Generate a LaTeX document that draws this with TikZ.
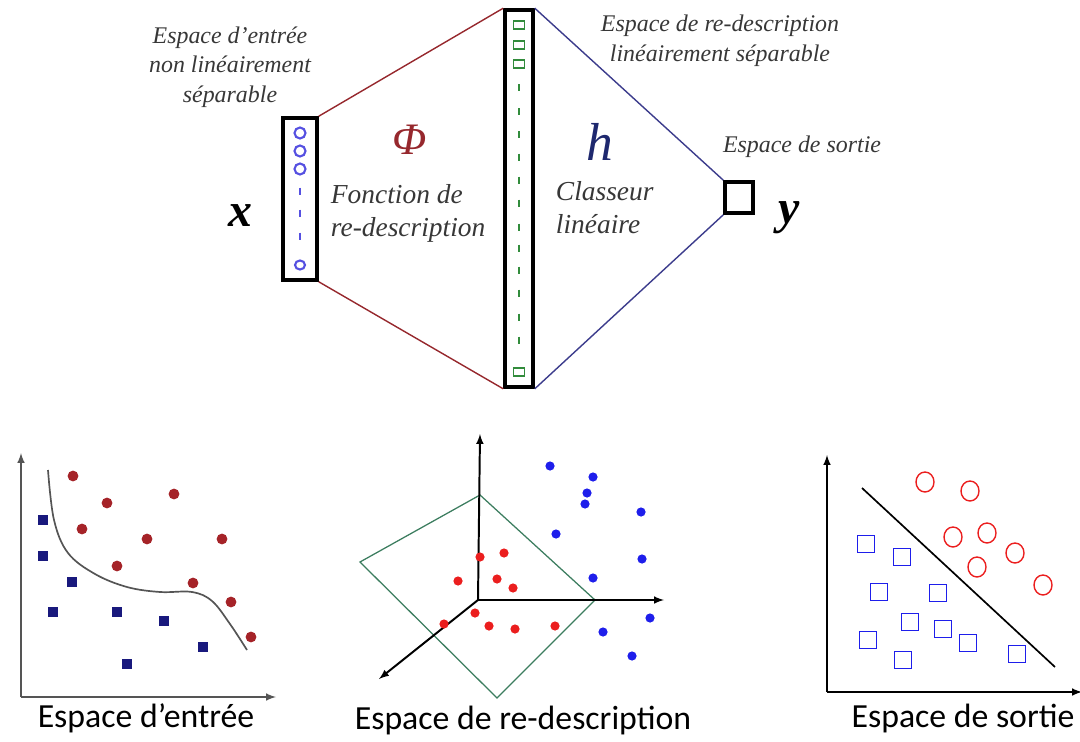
\documentclass[tikz,border=0pt]{standalone}
\usepackage{fontspec}
\setmainfont{Liberation Serif}
\newfontfamily\calibfont{Carlito}
\usepackage{tikz}
\usetikzlibrary{arrows,positioning,shapes.geometric}
\definecolor{phired}{RGB}{150,40,45}
\definecolor{hblue}{RGB}{60,60,140}
\definecolor{hdark}{RGB}{30,40,110}
\definecolor{labelgray}{RGB}{55,55,55}
\definecolor{inblue}{RGB}{85,80,225}
\definecolor{midgreen}{RGB}{50,140,60}
\definecolor{dotred}{RGB}{165,35,40}
\definecolor{dotnavy}{RGB}{25,25,125}
\definecolor{brightred}{RGB}{235,30,30}
\definecolor{brightblue}{RGB}{30,30,235}
\definecolor{planegreen}{RGB}{60,125,95}
\definecolor{axisgray}{RGB}{85,85,85}

\begin{document}
\begin{tikzpicture}[x=0.025cm, y=-0.025cm,
    inbox/.style={draw=black, line width=2.5pt, minimum width=0.85cm,
                  minimum height=4.05cm, inner sep=0pt},
    midbox/.style={draw=black, line width=2.5pt, minimum width=0.7cm,
                   minimum height=9.425cm, inner sep=0pt},
    outbox/.style={draw=black, line width=2.5pt, minimum width=0.7cm,
                   minimum height=0.78cm, inner sep=0pt},
    lbl/.style={font=\fontsize{17}{21}\selectfont\itshape, text=labelgray, align=center},
    midlbl/.style={font=\fontsize{19.5}{23.5}\selectfont\itshape, text=labelgray, align=left},
    vec/.style={font=\fontsize{34}{36}\selectfont\bfseries\itshape},
    caption/.style={font=\calibfont\fontsize{24}{28}\selectfont},
    redline/.style={phired, line width=1pt},
    blueline/.style={hblue, line width=1pt},
    axis/.style={-latex, line width=1.4pt},
    rdot/.style={circle, fill=dotred, minimum size=0.27cm, inner sep=0pt},
    nsq/.style={rectangle, fill=dotnavy, minimum size=0.25cm, inner sep=0pt},
    rpt/.style={circle, fill=brightred, minimum size=0.23cm, inner sep=0pt},
    bpt/.style={circle, fill=brightblue, minimum size=0.23cm, inner sep=0pt},
    rring/.style={draw=brightred, line width=1pt, ellipse, minimum width=0.45cm,
                  minimum height=0.5cm, inner sep=0pt},
    bbox/.style={draw=brightblue, line width=1pt, rectangle, minimum size=0.42cm, inner sep=0pt}
]
\useasboundingbox (0,0) rectangle (1080,742);

% --- top: network ---
\node[inbox]  (in)  at (300,199) {};
\node[midbox] (mid) at (519,198.5) {};
\node[outbox] (out) at (739,197.5) {};

\draw[redline]  (in.north east)  -- (mid.north west);
\draw[redline]  (in.south east)  -- (mid.south west);
\draw[blueline] (mid.north east) -- (out.north west);
\draw[blueline] (mid.south east) -- (out.south west);

% units inside the input box
\foreach \yy in {133,151,169}
  \draw[inblue, line width=1.5pt] (300,\yy) ellipse [x radius=5.5, y radius=5.5];
\foreach \yy in {191,213,236}
  \draw[inblue, line width=2pt] (300,\yy-3.5) -- (300,\yy+3.5);
\draw[inblue, line width=1.5pt] (300,265) ellipse [x radius=5, y radius=4.5];

% units inside the middle box
\foreach \yy in {25,45,64,372}
  \draw[midgreen, line width=1.2pt] (513.5,\yy-4) rectangle (524.5,\yy+4);
\foreach \yy in {88,112,135,157,180,203,227,248,270,293,317,340}
  \draw[midgreen, line width=1.8pt] (519,\yy-3.5) -- (519,\yy+3.5);

\node[lbl] (inlbl)  at (230,67)  {Espace d'entrée\\non linéairement\\séparable};
\node[lbl] (midlbl) at (720,41)  {Espace de re-description\\linéairement séparable};
\node[lbl] (outlbl) at (802,147) {Espace de sortie};

\node[font=\fontsize{32}{34}\selectfont\itshape, text=phired] (phi) at (410,140) {Φ};
\node[font=\fontsize{38}{40}\selectfont\itshape, text=hdark] (h) at (600,142) {h};
\node[midlbl, anchor=west] (fct) at (326,213) {Fonction de\\re-description};
\node[midlbl, anchor=west] (cls) at (551,208) {Classeur\\linéaire};

\node[vec] (x) at (240,216) {x};
\node[vec] (y) at (789,218) {y};

% --- bottom left: input space ---
\coordinate (o1) at (21,697);
\coordinate (u1) at (21,453);
\coordinate (r1) at (276,697);
\draw[axis, axisgray] (o1) -- (u1);
\draw[axis, axisgray] (o1) -- (r1);
\draw[axisgray, line width=1.2pt] plot[smooth, tension=0.6] coordinates
  {(48,470) (54,520) (68,553) (95,574) (127,587) (160,592) (192,592) (212,601) (230,624) (247,650)};
\foreach \px/\py [count=\i] in {73/476,107/503,174/494,82/529,147/539,222/539,117/566,193/583,231/602,251/637}
  \node[rdot] (ra\i) at (\px,\py) {};
\foreach \px/\py [count=\i] in {43/520,43/556,72/582,53/612,117/612,164/621,203/647,127/664}
  \node[nsq] (na\i) at (\px,\py) {};
\node[caption] (cap1) at (146,718) {Espace d’entrée};

% --- bottom middle: feature space ---
\coordinate (o2) at (478,600);
\coordinate (u2) at (480,434);
\coordinate (r2) at (664,600);
\coordinate (d2) at (379,679);
\coordinate (pa) at (360,562);
\coordinate (pb) at (480,495);
\coordinate (pc) at (595,600);
\coordinate (pd) at (497,698);
\draw[planegreen, line width=0.9pt] (pa) -- (pb) -- (pc) -- (pd) -- cycle;
\draw[axis, black] (o2) -- (u2);
\draw[axis, black] (o2) -- (r2);
\draw[axis, black] (o2) -- (d2);
\foreach \px/\py [count=\i] in {480/557,504/553,458/581,497/579,513/588,475/613,444/624,489/626,515/629,555/626}
  \node[rpt] (rb\i) at (\px,\py) {};
\foreach \px/\py [count=\i] in {550/466,593/477,587/493,585/504,641/512,556/534,642/559,593/578,650/618,603/632,632/656}
  \node[bpt] (bb\i) at (\px,\py) {};
\node[caption] (cap2) at (523,720) {Espace de re-description};

% --- bottom right: output space ---
\coordinate (o3) at (827,692);
\coordinate (u3) at (827,455);
\coordinate (r3) at (1082,692);
\draw[axis, black] (o3) -- (u3);
\draw[axis, black] (o3) -- (r3);
\coordinate (s1) at (862,488);
\coordinate (s2) at (1055,667);
\draw[black, line width=1.2pt] (s1) -- (s2);
\foreach \px/\py [count=\i] in {925/482,970/491,953/537,987/533,1015/553,977/567,1043/585}
  \node[rring] (rc\i) at (\px,\py) {};
\foreach \px/\py [count=\i] in {866/544,902/557,879/592,938/593,910/622,943/629,868/640,968/643,903/660,1017/654}
  \node[bbox] (bc\i) at (\px,\py) {};
\node[caption] (cap3) at (963,718) {Espace de sortie};
\end{tikzpicture}
\end{document}
